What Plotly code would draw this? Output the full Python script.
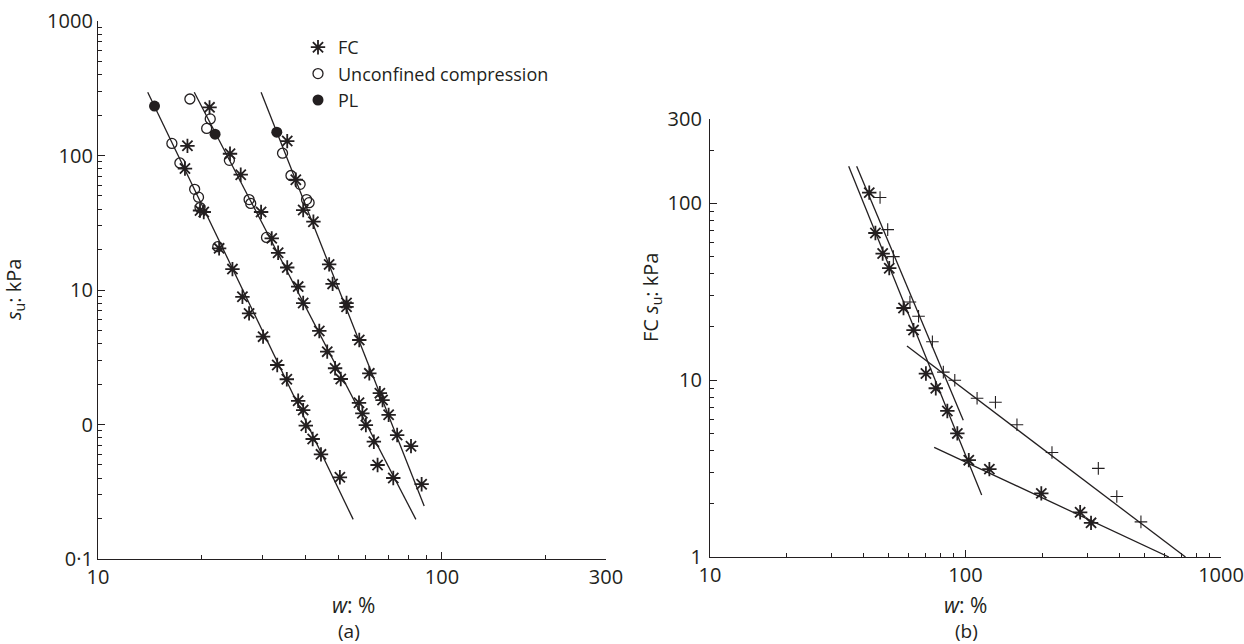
import plotly.graph_objects as go

# ---------------- Panel (a) data ----------------
fc1_w = [18.2, 17.9, 19.8, 20.3, 22.5, 24.6, 26.3, 27.5, 30.2, 33.2, 35.4, 38.2, 39.5, 40.2, 42.1, 44.5, 50.5]
fc1_su = [118, 80, 39, 38, 20.4, 14.3, 8.9, 6.7, 4.5, 2.77, 2.17, 1.50, 1.28, 0.98, 0.78, 0.60, 0.405]
uc1_w = [16.4, 17.3, 19.1, 19.6, 19.8, 22.3]
uc1_su = [123, 88, 56, 49, 41, 21]
pl1_w = [14.6]
pl1_su = [233]
fit1_w = [13.95, 55.2]
fit1_su = [295, 0.197]

fc2_w = [21.1, 24.2, 26.0, 29.8, 32.0, 33.4, 35.5, 38.2, 39.5, 44.0, 46.4, 48.9, 50.8, 57.4, 58.7, 60.1, 63.4, 65.0, 72.2]
fc2_su = [228, 103, 72, 38, 24.2, 18.9, 14.7, 10.6, 8.0, 4.96, 3.48, 2.62, 2.18, 1.45, 1.21, 0.99, 0.745, 0.50, 0.40]
uc2_w = [18.5, 21.2, 20.7, 24.1, 27.5, 27.8, 30.9]
uc2_su = [263, 187, 159, 92, 47, 44, 24.6]
pl2_w = [21.9]
pl2_su = [144]
fit2_w = [19.05, 84.0]
fit2_su = [295, 0.197]

fc3_w = [35.5, 37.6, 39.5, 42.3, 47.0, 48.1, 52.8, 52.8, 57.5, 61.5, 66.0, 67.2, 70.0, 74.1, 81.3, 87.3]
fc3_su = [128, 66, 39.3, 32.2, 15.5, 11.1, 8.0, 7.5, 4.25, 2.40, 1.71, 1.52, 1.18, 0.835, 0.69, 0.36]
uc3_w = [34.4, 36.4, 38.7, 40.4, 41.1]
uc3_su = [104, 71, 61, 47, 44.6]
pl3_w = [33.1]
pl3_su = [149]
fit3_w = [29.8, 88.8]
fit3_su = [295, 0.248]

# ---------------- Panel (b) data ----------------
star_w = [42.0, 44.4, 47.4, 50.3, 57.2, 62.6, 70.0, 76.5, 84.9, 92.9, 103, 124, 198, 281, 310]
star_su = [115, 68, 52, 43, 25.6, 19.2, 10.9, 9.0, 6.7, 5.0, 3.53, 3.14, 2.29, 1.79, 1.56]
plus_w = [46.3, 49.6, 52.2, 60.6, 65.5, 74.2, 81.9, 90.8, 111, 131, 159, 218, 331, 391, 486]
plus_su = [108, 71, 50, 27.7, 23, 16.5, 11.1, 10, 7.9, 7.5, 5.6, 3.9, 3.17, 2.2, 1.58]
lineA_w = [34.9, 115.7]
lineA_su = [162, 2.24]
lineB_w = [37.5, 98.0]
lineB_su = [162, 5.94]
lineC_w = [59.0, 726]
lineC_su = [15.6, 1.0]
lineD_w = [75.4, 625]
lineD_su = [4.17, 1.0]

# tick labels
a_xticks = [10, 100, 300]
a_xtext = ["10", "100", "300"]
a_yticks = [0.1, 1, 10, 100, 1000]
a_ytext = ["0·1", "0", "10", "100", "1000"]
b_xticks = [10, 100, 1000]
b_xtext = ["10", "100", "1000"]
b_yticks = [1, 10, 100, 300]
b_ytext = ["1", "10", "100", "300"]

INK = "#231f20"
FONT = "Open Sans"
W, H = 1244, 644

fig = go.Figure()

def line(x, y, xa, ya):
    fig.add_trace(go.Scatter(x=x, y=y, mode="lines", xaxis=xa, yaxis=ya,
                             line=dict(color=INK, width=1.3), showlegend=False,
                             hoverinfo="skip"))

for fx, fy in [(fit1_w, fit1_su), (fit2_w, fit2_su), (fit3_w, fit3_su)]:
    line(fx, fy, "x", "y")

star_marker = dict(symbol="asterisk-open", size=12, color=INK, line=dict(color=INK, width=1.8))
fig.add_trace(go.Scatter(x=fc1_w + fc2_w + fc3_w, y=fc1_su + fc2_su + fc3_su, mode="markers",
                         name="FC", marker=star_marker, xaxis="x", yaxis="y"))
fig.add_trace(go.Scatter(x=uc1_w + uc2_w + uc3_w, y=uc1_su + uc2_su + uc3_su, mode="markers",
                         name="Unconfined compression",
                         marker=dict(symbol="circle-open", size=10, color=INK, line=dict(color=INK, width=1.3)),
                         xaxis="x", yaxis="y"))
fig.add_trace(go.Scatter(x=pl1_w + pl2_w + pl3_w, y=pl1_su + pl2_su + pl3_su, mode="markers",
                         name="PL", marker=dict(symbol="circle", size=11, color=INK),
                         xaxis="x", yaxis="y"))

for fx, fy in [(lineA_w, lineA_su), (lineB_w, lineB_su), (lineC_w, lineC_su), (lineD_w, lineD_su)]:
    line(fx, fy, "x2", "y2")
fig.add_trace(go.Scatter(x=star_w, y=star_su, mode="markers", marker=star_marker,
                         showlegend=False, xaxis="x2", yaxis="y2"))
fig.add_trace(go.Scatter(x=plus_w, y=plus_su, mode="markers", showlegend=False,
                         marker=dict(symbol="cross-thin-open", size=9, color=INK,
                                     line=dict(color=INK, width=1.1)),
                         xaxis="x2", yaxis="y2"))

def minor_vals(lo_exp, hi_exp, maxv):
    v = []
    for e in range(lo_exp, hi_exp + 1):
        for m in range(2, 10):
            val = m * 10 ** e
            if val < maxv:
                v.append(val)
    return v

axis_common = dict(type="log", showgrid=False, zeroline=False, showline=True, linecolor=INK,
                   linewidth=1.3, ticks="inside", ticklen=7, tickwidth=1.2, tickcolor=INK,
                   tickfont=dict(family=FONT, size=20, color=INK), tickmode="array",
                   automargin=False, ticklabeloverflow="allow")

def minor(vals):
    return dict(tickvals=vals, ticks="inside", ticklen=4, tickwidth=1, tickcolor=INK, showgrid=False)

fig.update_layout(
    width=W, height=H, margin=dict(l=0, r=0, t=0, b=0, autoexpand=False),
    paper_bgcolor="white", plot_bgcolor="white",
    xaxis=dict(axis_common, domain=[98 / W, 606 / W], range=[1, 2.4771], anchor="y",
               tickvals=a_xticks, ticktext=a_xtext, minor=minor(minor_vals(1, 2, 300))),
    yaxis=dict(axis_common, domain=[85 / H, 623 / H], range=[-1, 3], anchor="x",
               tickvals=a_yticks, ticktext=a_ytext, minor=minor(minor_vals(-1, 2, 1000))),
    xaxis2=dict(axis_common, domain=[710 / W, 1221 / W], range=[1, 3], anchor="y2",
                tickvals=b_xticks, ticktext=b_xtext, minor=minor(minor_vals(1, 2, 1000))),
    yaxis2=dict(axis_common, domain=[87 / H, 525 / H], range=[0, 2.4771], anchor="x2",
                tickvals=b_yticks, ticktext=b_ytext, minor=minor(minor_vals(0, 2, 300)),
                ticklabelstandoff=3),
    legend=dict(x=298 / W, y=1 - 29 / H, xanchor="left", yanchor="top", bgcolor="rgba(0,0,0,0)",
                font=dict(family=FONT, size=18, color=INK), tracegroupgap=0, itemwidth=30),
    font=dict(family=FONT, color=INK),
)

def ann(x, y, text, angle=0, size=19):
    fig.add_annotation(x=x / W, y=1 - y / H, xref="paper", yref="paper", text=text, showarrow=False,
                       textangle=angle, font=dict(family=FONT, size=size, color=INK),
                       xanchor="center", yanchor="middle")

ann(14, 290, "<i>s</i><sub>u</sub>: kPa", -90, size=20)
ann(652, 298, "FC <i>s</i><sub>u</sub>: kPa", -90, size=20)
ann(353, 605, "<i>w</i>: %", size=21)
ann(965, 605, "<i>w</i>: %", size=21)
ann(349, 631, "(a)", size=19)
ann(967, 631, "(b)", size=19)

fig.write_html("out.html", config={"displayModeBar": False},
               post_script="document.body.style.margin='0';document.body.style.overflow='hidden';")
